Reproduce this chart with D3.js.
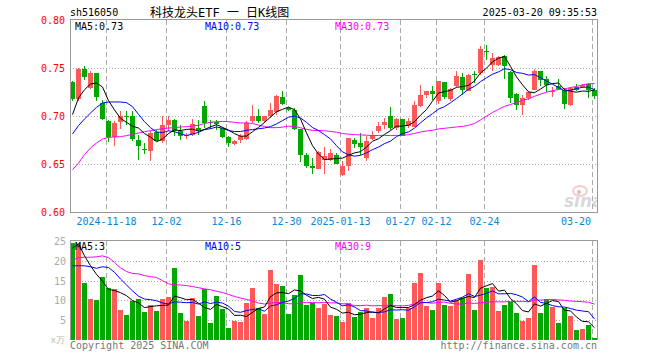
<!DOCTYPE html>
<html>
<head>
<meta charset="utf-8">
<script src="https://cdn.jsdelivr.net/npm/d3@7"></script>
<style>
body { margin: 0; background: #fff; }
svg text { font-family: "DejaVu Sans Mono", "Liberation Mono", monospace; font-size: 10px; }
</style>
</head>
<body>
<svg id="chart" width="660" height="360"></svg>
<script>
// trading days shown
var dates = ['2024-11-08',
  '2024-11-11','2024-11-12','2024-11-13','2024-11-14','2024-11-15',
  '2024-11-18','2024-11-19','2024-11-20','2024-11-21','2024-11-22',
  '2024-11-25','2024-11-26','2024-11-27','2024-11-28','2024-11-29',
  '2024-12-02','2024-12-03','2024-12-04','2024-12-05','2024-12-06',
  '2024-12-09','2024-12-10','2024-12-11','2024-12-12','2024-12-13',
  '2024-12-16','2024-12-17','2024-12-18','2024-12-19','2024-12-20',
  '2024-12-23','2024-12-24','2024-12-25','2024-12-26','2024-12-27',
  '2024-12-30','2024-12-31','2025-01-02','2025-01-03',
  '2025-01-06','2025-01-07','2025-01-08','2025-01-09','2025-01-10',
  '2025-01-13','2025-01-14','2025-01-15','2025-01-16','2025-01-17',
  '2025-01-20','2025-01-21','2025-01-22','2025-01-23','2025-01-24',
  '2025-01-27','2025-02-05','2025-02-06','2025-02-07',
  '2025-02-10','2025-02-11','2025-02-12','2025-02-13','2025-02-14',
  '2025-02-17','2025-02-18','2025-02-19','2025-02-20','2025-02-21',
  '2025-02-24','2025-02-25','2025-02-26','2025-02-27','2025-02-28',
  '2025-03-03','2025-03-04','2025-03-05','2025-03-06','2025-03-07',
  '2025-03-10','2025-03-11','2025-03-12','2025-03-13','2025-03-14',
  '2025-03-17','2025-03-18','2025-03-19','2025-03-20'];

var open = [0.7354,0.718,0.749,0.7292,0.7444,0.7132,0.6951,0.6778,0.6941,0.7003,
  0.7003,0.6753,0.666,0.6632,0.6833,0.6743,0.691,0.6962,0.684,0.6788,
  0.6806,0.6878,0.7108,0.694,0.6935,0.6875,0.6778,0.6708,0.6753,0.6764,
  0.6951,0.7003,0.6944,0.7003,0.7038,0.7194,0.708,0.7066,0.6865,0.659,
  0.6476,0.6451,0.6545,0.6545,0.659,0.6389,0.6483,0.6753,0.6719,0.6563,
  0.6764,0.684,0.6903,0.6997,0.6875,0.6972,0.6892,0.6885,0.71,0.7215,
  0.7264,0.7153,0.7354,0.718,0.7309,0.7403,0.7264,0.7438,0.7448,0.7681,
  0.7535,0.7535,0.7622,0.7455,0.7233,0.7118,0.7188,0.7274,0.7472,0.7385,
  0.7247,0.7316,0.7274,0.7118,0.7302,0.7302,0.7337,0.7267];
var high = [0.7365,0.750,0.7524,0.7465,0.745,0.717,0.6955,0.6944,0.7049,0.7049,
  0.7049,0.6806,0.6719,0.684,0.6858,0.6997,0.6997,0.6972,0.691,0.6823,
  0.6972,0.6962,0.716,0.6955,0.6955,0.6885,0.679,0.6745,0.6812,0.6944,
  0.7111,0.7076,0.7003,0.7135,0.7222,0.7264,0.709,0.7083,0.6865,0.6611,
  0.6563,0.6631,0.6673,0.666,0.6615,0.6528,0.6775,0.677,0.6823,0.6788,
  0.684,0.6938,0.6979,0.709,0.698,0.6972,0.6979,0.7153,0.7326,0.7264,
  0.731,0.7368,0.7354,0.7292,0.7472,0.7448,0.7438,0.7465,0.7733,0.7743,
  0.7653,0.7622,0.764,0.7465,0.724,0.7222,0.7257,0.749,0.7472,0.7413,
  0.7298,0.7385,0.7292,0.7302,0.7337,0.733,0.7344,0.729];
var low = [0.716,0.716,0.737,0.728,0.7153,0.6955,0.6726,0.6684,0.6865,0.691,
  0.6736,0.6538,0.6608,0.6528,0.6736,0.6719,0.684,0.6788,0.6753,0.6764,
  0.6788,0.6806,0.6875,0.686,0.685,0.6768,0.6674,0.670,0.6719,0.6745,
  0.6927,0.6927,0.6927,0.698,0.7014,0.7118,0.7055,0.6858,0.6517,0.6458,
  0.6396,0.6448,0.6395,0.6528,0.6496,0.6379,0.6424,0.6667,0.6597,0.6528,
  0.6753,0.6823,0.686,0.6857,0.6857,0.679,0.6875,0.6885,0.7093,0.719,
  0.717,0.7125,0.718,0.716,0.7302,0.7222,0.7257,0.7347,0.7431,0.758,
  0.7465,0.7517,0.7385,0.7135,0.7059,0.7014,0.717,0.7267,0.7316,0.7247,
  0.7194,0.7274,0.7076,0.7108,0.7264,0.7292,0.7188,0.7181];
var close = [0.718,0.749,0.741,0.7444,0.7194,0.6972,0.6778,0.6931,0.7003,0.699,
  0.6764,0.6684,0.6646,0.6823,0.6743,0.691,0.6962,0.684,0.6788,0.6806,
  0.692,0.6858,0.6927,0.6925,0.692,0.6778,0.6719,0.6743,0.6788,0.6927,
  0.7003,0.6944,0.7003,0.7066,0.7205,0.7128,0.7062,0.6865,0.659,0.6476,
  0.6462,0.6625,0.658,0.6615,0.6503,0.6483,0.6771,0.6708,0.6677,0.6743,
  0.6788,0.6899,0.6934,0.6875,0.6972,0.6795,0.6944,0.7118,0.7215,0.7264,
  0.7229,0.7368,0.7194,0.728,0.742,0.7274,0.7424,0.7424,0.7701,0.7667,
  0.7604,0.7611,0.7517,0.7188,0.7118,0.7188,0.7247,0.7472,0.7378,0.7326,
  0.7264,0.7281,0.7128,0.7292,0.7274,0.7326,0.7267,0.7205];
// volume, 万手
var volume = [24.6,23.75,14.3,10.25,10.0,16.0,13.25,13.0,7.5,6.25,
  9.8,10.25,7.1,8.75,7.3,10.25,10.8,18.3,6.8,4.8,
  10.5,6.1,12.9,4.3,11.0,7.8,3.1,4.8,4.6,9.3,
  13.1,8.1,6.6,17.6,14.1,13.6,6.6,11.3,16.3,8.75,
  9.4,8.1,9.0,6.25,6.0,4.6,9.25,5.75,7.0,8.0,
  5.5,8.0,10.75,11.5,5.25,5.5,8.0,14.5,17.0,8.5,
  7.5,14.5,8.75,8.5,10.2,10.7,16.75,7.5,20.25,13.25,
  13.5,7.25,8.75,9.6,6.75,4.8,5.5,19.0,6.75,10.25,
  8.25,4.25,8.0,6.0,2.5,2.75,3.75,0.5];

// MA values before enough days are on screen
var ma5Head = [0.7014,0.7188,0.7274,0.7333];
var ma10Head = [0.6813,0.69,0.6969,0.7031,0.709,0.7135,0.7146,0.7146,0.7146];
var ma30Head = [0.6441,0.651,0.6597,0.6667,0.6719,0.676,0.6778,0.6781,0.6785,0.6795,
  0.6809,0.6823,0.6837,0.6847,0.6858,0.6868,0.6875,0.6878,0.6885,0.6889,
  0.6896,0.6903,0.6922,0.6934,0.6941,0.6944,0.6941,0.6934,0.6927];
var volMa5Head = [23.2,24.3,21.25,18.75];
var volMa10Head = [18.75,18.75,18.75,18.5,18.1,18.5,18.3,17.1,15.4];
var volMa30Head = [20.2,20.8,20.9,20.9,21.0,21.25,20.8,19.6,18.2,17.3,
  16.8,16.7,16.25,16.0,15.8,15.0,14.2,13.9,13.9,13.75,
  13.5,13.2,12.9,12.7,12.3,12.0,11.5,11.0,10.6];

var priceTicks = [0.80, 0.75, 0.70, 0.65, 0.60];
var volTicks = [25, 20, 15, 10, 5];
var tickDates = ['2024-11-18','2024-12-02','2024-12-16','2024-12-30','2025-01-13',
  '2025-01-27','2025-02-12','2025-02-24','2025-03-20'];
var tickLabels = ['2024-11-18','12-02','12-16','12-30','2025-01-13','01-27','02-12','02-24','03-20'];

var RED = '#ff5858', GREEN = '#00a800';
var GRID = '#aaa', BORDER = '#999';

function movingAvg(values, n, head) {
    return values.map(function(v, i) {
        if (i < n - 1) return head[i];
        return d3.mean(values.slice(i - n + 1, i + 1));
    });
}

var svg = d3.select('#chart');
var left = 70, right = 597;
var n = dates.length;

var x = d3.scaleBand().domain(dates).range([left, left + 6 * n]);
var y = d3.scaleLinear().domain([0.60, 0.80]).range([212, 20]);
var yv = d3.scaleLinear().domain([0, 25]).range([340, 241]);

function isUp(i) { return close[i] >= open[i]; }
function colorOf(i) { return isUp(i) ? RED : GREEN; }
function cx(i) { return x(dates[i]) + 2.5; }

// ---- grid, price panel
var grid = svg.append('g').attr('shape-rendering', 'crispEdges');
grid.selectAll('line.hp').data(priceTicks.slice(1, -1)).enter().append('line')
    .attr('x1', left).attr('x2', right)
    .attr('y1', function(d) { return Math.round(y(d)) + 0.5; })
    .attr('y2', function(d) { return Math.round(y(d)) + 0.5; })
    .attr('stroke', GRID).attr('stroke-dasharray', '1,2');
grid.selectAll('line.vp').data(tickDates).enter().append('line')
    .attr('x1', function(d) { return x(d) + 0.5; })
    .attr('x2', function(d) { return x(d) + 0.5; })
    .attr('y1', y(0.80)).attr('y2', y(0.60))
    .attr('stroke', GRID).attr('stroke-dasharray', '5,3');

// ---- grid, volume panel
grid.selectAll('line.hv').data(volTicks.slice(1)).enter().append('line')
    .attr('x1', left).attr('x2', right)
    .attr('y1', function(d) { return Math.round(yv(d)) + 0.5; })
    .attr('y2', function(d) { return Math.round(yv(d)) + 0.5; })
    .attr('stroke', GRID).attr('stroke-dasharray', '1,2');
grid.selectAll('line.vv').data(tickDates).enter().append('line')
    .attr('x1', function(d) { return x(d) + 0.5; })
    .attr('x2', function(d) { return x(d) + 0.5; })
    .attr('y1', yv(25)).attr('y2', yv(0))
    .attr('stroke', GRID).attr('stroke-dasharray', '5,3');

// sina watermark
var wm = svg.append('g').attr('opacity', 0.55);
wm.append('ellipse').attr('cx', 580).attr('cy', 191).attr('rx', 7).attr('ry', 5)
    .attr('fill', 'none').attr('stroke', '#f0a0a0').attr('stroke-width', 2);
wm.append('circle').attr('cx', 579).attr('cy', 192).attr('r', 2).attr('fill', '#e08080');
wm.append('text').attr('x', 564).attr('y', 207)
    .style('font-family', '"DejaVu Sans", sans-serif').style('font-size', '17px')
    .style('font-weight', 'bold').style('font-style', 'italic')
    .attr('fill', '#bbb').text('sina');
svg.append('rect').attr('x', right + 0.5).attr('y', 170).attr('width', 20).attr('height', 40).attr('fill', '#fff');

// ---- candles
var idx = d3.range(n);
var candles = svg.append('g').attr('shape-rendering', 'crispEdges');
candles.selectAll('line').data(idx).enter().append('line')
    .attr('x1', cx).attr('x2', cx)
    .attr('y1', function(i) { return y(high[i]); })
    .attr('y2', function(i) { return y(low[i]); })
    .attr('stroke', colorOf);
candles.selectAll('rect').data(idx).enter().append('rect')
    .attr('x', function(i) { return x(dates[i]); })
    .attr('width', 5)
    .attr('y', function(i) { return y(Math.max(open[i], close[i])); })
    .attr('height', function(i) { return Math.max(1, Math.abs(y(open[i]) - y(close[i]))); })
    .attr('fill', colorOf);

// ---- volume bars
var bars = svg.append('g').attr('shape-rendering', 'crispEdges');
bars.selectAll('rect').data(idx).enter().append('rect')
    .attr('x', function(i) { return x(dates[i]); })
    .attr('width', 5)
    .attr('y', function(i) { return yv(volume[i]); })
    .attr('height', function(i) { return yv(0) - yv(volume[i]); })
    .attr('fill', colorOf);

// ---- moving averages
var ma5 = movingAvg(close, 5, ma5Head);
var ma10 = movingAvg(close, 10, ma10Head);
var ma30 = movingAvg(close, 30, ma30Head);
var vma5 = movingAvg(volume, 5, volMa5Head);
var vma10 = movingAvg(volume, 10, volMa10Head);
var vma30 = movingAvg(volume, 30, volMa30Head);

var priceLine = d3.line().x(function(d, i) { return cx(i); }).y(function(d) { return y(d); });
var volLine = d3.line().x(function(d, i) { return cx(i); }).y(function(d) { return yv(d); });

[[ma30, '#ff00ff'], [ma10, '#0000ff'], [ma5, '#000']].forEach(function(s) {
    svg.append('path').attr('d', priceLine(s[0])).attr('fill', 'none')
        .attr('stroke', s[1]).attr('stroke-width', 1);
});
[[vma30, '#ff00ff'], [vma10, '#0000ff'], [vma5, '#000']].forEach(function(s) {
    svg.append('path').attr('d', volLine(s[0])).attr('fill', 'none')
        .attr('stroke', s[1]).attr('stroke-width', 1);
});

// ---- borders
var frame = svg.append('g').attr('stroke', BORDER).attr('shape-rendering', 'crispEdges');
frame.append('line').attr('x1', left).attr('x2', right + 0.5).attr('y1', 19.5).attr('y2', 19.5);
frame.append('line').attr('x1', left).attr('x2', right + 0.5).attr('y1', 212.5).attr('y2', 212.5);
frame.append('line').attr('x1', left + 0.5).attr('x2', left + 0.5).attr('y1', 19.5).attr('y2', 212.5);
frame.append('line').attr('x1', right + 0.5).attr('x2', right + 0.5).attr('y1', 19.5).attr('y2', 212.5);
frame.append('line').attr('x1', left).attr('x2', right + 0.5).attr('y1', 240.5).attr('y2', 240.5);
frame.append('line').attr('x1', left + 0.5).attr('x2', left + 0.5).attr('y1', 240.5).attr('y2', 340);
frame.append('line').attr('x1', right + 0.5).attr('x2', right + 0.5).attr('y1', 240.5).attr('y2', 340);

// ---- texts
svg.append('text').attr('x', 70).attr('y', 16).text('sh516050');
svg.append('text').attr('x', 150).attr('y', 17)
    .style('font-family', '"DejaVu Sans Mono", "Noto Sans CJK SC", monospace')
    .style('font-size', '12px').text('科技龙头ETF 一 日K线图');
svg.append('text').attr('x', 597).attr('y', 16).attr('text-anchor', 'end').text('2025-03-20 09:35:53');

svg.selectAll('text.py').data(priceTicks).enter().append('text')
    .attr('x', 65).attr('y', function(d) { return y(d) + 4; })
    .attr('text-anchor', 'end').attr('fill', '#f00')
    .text(function(d) { return d.toFixed(2); });

svg.selectAll('text.xl').data(tickDates).enter().append('text')
    .attr('x', function(d, i) { return i === tickDates.length - 1 ? x(d) - 1 : x(d) + 0.5; })
    .attr('y', 225)
    .attr('text-anchor', function(d, i) { return i === tickDates.length - 1 ? 'end' : 'middle'; })
    .attr('fill', '#0a86d6')
    .text(function(d, i) { return tickLabels[i]; });

svg.selectAll('text.vy').data(volTicks).enter().append('text')
    .attr('x', 66).attr('y', function(d) { return yv(d) + 4; })
    .attr('text-anchor', 'end').attr('fill', '#aaa')
    .text(function(d) { return d; });
svg.append('text').attr('x', 65).attr('y', 343).attr('text-anchor', 'end')
    .attr('fill', '#bbb').style('font-size', '9px').text('x万');

var last = n - 1;
var legends = [
    [75, 30, '#000', 'MA5:' + ma5[last].toFixed(2)],
    [205, 30, '#0000ff', 'MA10:' + ma10[last].toFixed(2)],
    [335, 30, '#ff00ff', 'MA30:' + ma30[last].toFixed(2)],
    [75, 250, '#000', 'MA5:' + Math.round(vma5[last])],
    [205, 250, '#0000ff', 'MA10:' + Math.round(vma10[last])],
    [335, 250, '#ff00ff', 'MA30:' + Math.round(vma30[last])]
];
svg.selectAll('text.lg').data(legends).enter().append('text')
    .attr('x', function(d) { return d[0]; })
    .attr('y', function(d) { return d[1]; })
    .attr('fill', function(d) { return d[2]; })
    .text(function(d) { return d[3]; });

svg.append('text').attr('x', 70).attr('y', 349).attr('fill', '#777').text('Copyright 2025 SINA.COM');
svg.append('text').attr('x', 597).attr('y', 349).attr('text-anchor', 'end').attr('fill', '#777')
    .text('http://finance.sina.com.cn');
</script>
</body>
</html>
